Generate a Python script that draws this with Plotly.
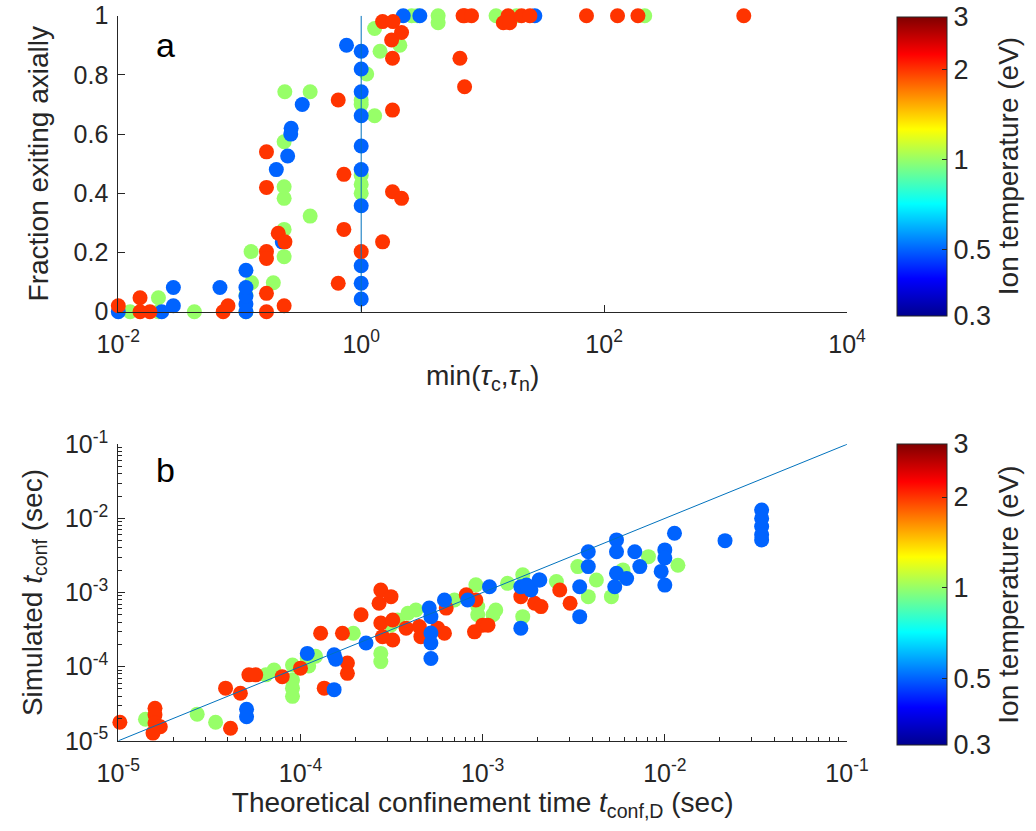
import numpy as np
import plotly.graph_objects as go

# ---------------- data: panel (a) ----------------
# Ion temperature groups (eV)
T_blue, T_green, T_red = 0.5, 1.0, 2.0

a_blue_x = [0.01, 0.0228, 0.0284, 0.0284, 0.0687, 0.1125, 0.1125, 0.1125, 0.1125, 0.1125,
            0.224, 0.20, 0.248, 0.263, 0.265, 0.327, 0.757,
            1, 1, 1, 1, 1, 1, 1, 1, 1, 1, 2.22, 3.04, 26.9]
a_blue_y = [0, 0, 0.02, 0.082, 0.082, 0, 0.026, 0.053, 0.082, 0.14,
            0.236, 0.48, 0.526, 0.60, 0.62, 0.70, 0.90,
            0.88, 0.82, 0.743, 0.662, 0.56, 0.48, 0.358, 0.155, 0.096, 0.043, 1, 1, 1]

a_green_x = [0.0125, 0.0214, 0.0214, 0.0423, 0.1125, 0.1125, 0.125, 0.124, 0.189,
             0.232, 0.232, 0.232, 0.232, 0.232, 0.235, 0.38, 0.38,
             1, 1, 1, 1, 1, 1.11, 1.29, 1.29, 1.43, 2.08, 2.6, 2.9, 4.3, 4.3, 12.9, 19, 216]
a_green_y = [0, 0.047, 0, 0, 0, 0.056, 0.098, 0.203, 0.098,
             0.186, 0.278, 0.383, 0.422, 0.574, 0.743, 0.743, 0.323,
             0.715, 0.70, 0.46, 0.43, 0.40, 0.803, 0.662, 0.957, 0.88, 0.90, 1, 1, 1, 0.976, 1, 1, 1]

a_red_x = [0.01, 0.0151, 0.0151, 0.0182, 0.073, 0.080,
           0.166, 0.166, 0.166, 0.166, 0.166, 0.166, 0.2075, 0.2355, 0.232,
           0.647, 0.647, 0.72, 0.72, 1.0, 1.5, 1.81, 1.81, 1.81, 2.15,
           1.5, 1.83, 1.78, 2.15, 6.9, 6.5, 7.1, 7.1, 8.1,
           16.2, 14.8, 16.7, 20.9, 24.5, 71.6, 129, 190, 1413]
a_red_y = [0.02, 0.047, 0, 0, 0, 0.02,
           0, 0.062, 0.203, 0.18, 0.54, 0.42, 0.265, 0.236, 0.02,
           0.096, 0.715, 0.278, 0.464, 0.203, 0.236, 0.856, 0.681, 0.405, 0.383,
           0.98, 0.98, 0.918, 0.943, 1, 0.856, 0.76, 1, 1,
           1, 0.976, 0.976, 1, 1, 1, 1, 1, 1]

# ---------------- data: panel (b) ----------------
b_red_x = [1.02e-5, 1.59e-5, 1.59e-5, 1.59e-5, 1.70e-5, 1.55e-5, 3.88e-5, 4.68e-5, 4.13e-5,
           5.21e-5, 5.68e-5, 7.94e-5, 1.0e-4, 1.29e-4, 1.70e-4, 1.35e-4, 2.15e-4,
           2.76e-4, 3.14e-4, 2.70e-4, 2.76e-4, 3.21e-4, 2.82e-4, 3.21e-4, 3.80e-4,
           4.49e-4, 4.58e-4, 5.66e-4, 6.17e-4, 8.13e-4, 9.18e-4, 9.02e-4, 1.0e-3, 1.07e-3,
           1.81e-4, 1.81e-4, 1.62e-3, 1.93e-3, 2.09e-3, 2.65e-3, 3.02e-3, 6.31e-4]
b_red_y = [1.78e-5, 2.75e-5, 2.24e-5, 1.74e-5, 1.55e-5, 1.27e-5, 5.13e-5, 4.37e-5, 1.48e-5,
           7.76e-5, 7.76e-5, 7.33e-5, 9.55e-5, 2.82e-4, 2.82e-4, 5.13e-5, 5.01e-4,
           1.08e-3, 8.81e-4, 7.16e-4, 3.89e-4, 4.27e-4, 2.54e-4, 2.29e-4, 3.31e-4,
           3.47e-4, 2.54e-4, 3.31e-4, 2.82e-4, 9.33e-4, 7.94e-4, 2.95e-4, 3.63e-4, 3.63e-4,
           1.12e-4, 8.13e-5, 8.81e-4, 7.16e-4, 6.46e-4, 1.08e-3, 7.16e-4, 6.17e-4]

b_green_x = [1.41e-5, 2.71e-5, 3.42e-5, 6.46e-5, 7.16e-5, 9.04e-5, 9.04e-5, 9.04e-5, 9.04e-5,
             1.11e-4, 1.21e-4, 1.95e-4, 1.09e-4, 3.13e-4, 3.41e-4, 3.89e-4, 4.30e-4,
             2.76e-4, 2.76e-4, 7.0e-4, 9.18e-4, 9.40e-4, 9.40e-4, 1.18e-3, 1.14e-3,
             1.37e-3, 1.66e-3, 1.66e-3, 3.33e-3, 4.21e-3, 5.09e-3, 5.89e-3, 6.03e-3,
             8.13e-3, 1.18e-2, 3.80e-3, 2.54e-3]
b_green_y = [1.95e-5, 2.29e-5, 1.78e-5, 7.76e-5, 9.02e-5, 1.05e-4, 6.61e-5, 5.13e-5, 3.98e-5,
             1.02e-4, 1.38e-4, 2.82e-4, 1.29e-4, 3.63e-4, 4.27e-4, 5.25e-4, 5.82e-4,
             1.51e-4, 1.17e-4, 7.94e-4, 1.27e-3, 6.46e-4, 5.01e-4, 5.82e-4, 5.01e-4,
             1.33e-3, 1.74e-3, 4.73e-4, 2.24e-3, 1.48e-3, 8.81e-4, 2.02e-3, 1.64e-3,
             3.05e-3, 2.34e-3, 8.81e-4, 1.41e-3]

b_blue_x = [5.06e-5, 5.06e-5, 1.09e-4, 1.53e-4, 1.56e-4, 1.53e-4, 2.29e-4,
            5.09e-4, 5.20e-4, 5.20e-4, 5.20e-4, 5.20e-4, 6.17e-4, 8.28e-4,
            1.09e-3, 1.62e-3, 1.84e-3, 2.04e-3, 1.62e-3, 1.74e-3,
            3.80e-3, 3.80e-3, 5.43e-3, 5.43e-3, 6.84e-3, 7.29e-3, 5.43e-3, 5.31e-3, 6.17e-3,
            1.13e-2, 1.0e-2, 1.0e-2, 9.55e-3, 1.0e-2, 2.14e-2,
            3.40e-2, 3.40e-2, 3.40e-2, 3.40e-2, 3.40e-2, 3.41e-3, 3.41e-3, 2.06e-3]
b_blue_y = [2.66e-5, 2.11e-5, 1.51e-4, 1.45e-4, 1.26e-4, 4.90e-5, 2.09e-4,
            6.17e-4, 4.73e-4, 2.85e-4, 2.09e-4, 1.29e-4, 7.94e-4, 7.94e-4,
            1.20e-3, 1.20e-3, 1.08e-3, 1.48e-3, 3.31e-4, 1.26e-3,
            3.55e-3, 2.24e-3, 5.13e-3, 3.55e-3, 3.55e-3, 2.24e-3, 1.82e-3, 1.20e-3, 1.55e-3,
            6.31e-3, 3.76e-3, 2.92e-3, 1.93e-3, 1.26e-3, 5.01e-3,
            1.30e-2, 1.0e-2, 7.76e-3, 6.03e-3, 5.13e-3, 1.20e-3, 4.73e-4, 1.48e-3]

# reference lines
vline_x, vline_y = [1, 1], [0, 1]
diag_x, diag_y = [1e-5, 1e-1], [1e-5, 1e-1]

cbar_ticks = [0.3, 0.5, 1, 2, 3]
cbar_ticktext = ["0.3", "0.5", "1", "2", "3"]

# ---------------- figure ----------------
W, H = 1036, 831
jet = [[0.0, "#00008f"], [0.125, "#0000ff"], [0.375, "#00ffff"],
       [0.625, "#ffff00"], [0.875, "#ff0000"], [1.0, "#800000"]]
FONT = "Liberation Sans, Arial, Helvetica, sans-serif"
AX = "#262626"

def px2fx(p):
    return p / W

def px2fy(p):
    return 1 - p / H

fig = go.Figure()

def add_groups(groups, xa, ya, cax):
    for xs, ys, T in groups:
        fig.add_trace(go.Scatter(
            x=xs, y=ys, mode="markers", xaxis=xa, yaxis=ya, cliponaxis=False,
            showlegend=False,
            marker=dict(size=15, color=[np.log10(T)] * len(xs), coloraxis=cax,
                        line=dict(width=0), opacity=1)))

add_groups([(a_green_x, a_green_y, T_green), (a_blue_x, a_blue_y, T_blue),
            (a_red_x, a_red_y, T_red)], "x", "y", "coloraxis")
fig.add_trace(go.Scatter(x=vline_x, y=vline_y, mode="lines", xaxis="x", yaxis="y",
                         line=dict(color="#0072bd", width=1), showlegend=False))

add_groups([(b_green_x, b_green_y, T_green), (b_red_x, b_red_y, T_red),
            (b_blue_x, b_blue_y, T_blue)], "x2", "y2", "coloraxis2")
fig.add_trace(go.Scatter(x=diag_x, y=diag_y, mode="lines", xaxis="x2", yaxis="y2",
                         line=dict(color="#0072bd", width=1), showlegend=False))

x_dom = [px2fx(118.3), px2fx(847)]
ya_dom = [px2fy(311.7), px2fy(15.7)]
yb_dom = [px2fy(740.8), px2fy(444.3)]

def sup(e):
    return "10<sup>%d</sup>" % e

minor_vals = [m * 10.0 ** e for e in range(-5, -1) for m in range(2, 10)]

common = dict(showline=True, linecolor=AX, linewidth=1, ticks="inside", ticklen=7,
              tickcolor=AX, showgrid=False, zeroline=False, automargin=False,
              tickfont=dict(family=FONT, size=25, color=AX))
xcommon = dict(common, ticklabelstandoff=10)
ycommon = dict(common, ticklabelstandoff=4)

TFONT = dict(family=FONT, size=28, color=AX)

def cbar(y0, y1):
    return dict(
        x=px2fx(897), xanchor="left", y=px2fy(y1), yanchor="bottom",
        len=(y1 - y0) / H, lenmode="fraction", thickness=50, thicknessmode="pixels",
        xpad=0, ypad=0, outlinewidth=1, outlinecolor=AX,
        tickvals=[np.log10(v) for v in cbar_ticks], ticktext=cbar_ticktext,
        ticks="inside", ticklen=5, tickcolor=AX,
        tickfont=dict(family=FONT, size=27, color=AX),
        title=dict(text="Ion temperature (eV)", side="right", font=TFONT))

fig.update_layout(
    width=W, height=H, margin=dict(l=0, r=0, t=0, b=0, autoexpand=False),
    paper_bgcolor="white", plot_bgcolor="white",
    font=dict(family=FONT, color=AX),
    xaxis=dict(type="log", range=[-2, 4], domain=x_dom, anchor="y",
               tickvals=[1e-2, 1, 1e2, 1e4], ticktext=[sup(-2), sup(0), sup(2), sup(4)],
               title=dict(text="min(<i>τ</i><sub>c</sub>,<i>τ</i><sub>n</sub>)",
                          font=TFONT, standoff=8), **xcommon),
    yaxis=dict(range=[0, 1], domain=ya_dom, anchor="x",
               tickvals=[0, 0.2, 0.4, 0.6, 0.8, 1],
               ticktext=["0", "0.2", "0.4", "0.6", "0.8", "1"],
               title=dict(text="Fraction exiting axially", font=TFONT, standoff=16),
               **ycommon),
    xaxis2=dict(type="log", range=[-5, -1], domain=x_dom, anchor="y2",
                tickvals=[1e-5, 1e-4, 1e-3, 1e-2, 1e-1],
                ticktext=[sup(-5), sup(-4), sup(-3), sup(-2), sup(-1)],
                minor=dict(tickvals=minor_vals, ticks="inside", ticklen=4, tickcolor=AX),
                title=dict(text="Theoretical confinement time <i>t</i><sub>conf,D</sub> (sec)",
                           font=TFONT, standoff=4), **xcommon),
    yaxis2=dict(type="log", range=[-5, -1], domain=yb_dom, anchor="x2",
                tickvals=[1e-5, 1e-4, 1e-3, 1e-2, 1e-1],
                ticktext=[sup(-5), sup(-4), sup(-3), sup(-2), sup(-1)],
                minor=dict(tickvals=minor_vals, ticks="inside", ticklen=4, tickcolor=AX),
                title=dict(text="Simulated <i>t</i><sub>conf</sub> (sec)",
                           font=TFONT, standoff=14), **ycommon),
    coloraxis=dict(colorscale=jet, cmin=np.log10(0.3), cmax=np.log10(3),
                   colorbar=cbar(16.7, 315.5)),
    coloraxis2=dict(colorscale=jet, cmin=np.log10(0.3), cmax=np.log10(3),
                    colorbar=cbar(444.3, 745)),
    annotations=[
        dict(text="a", x=px2fx(165), y=px2fy(45), xref="paper", yref="paper",
             xanchor="center", yanchor="middle", showarrow=False,
             font=dict(family=FONT, size=34, color="black")),
        dict(text="b", x=px2fx(165), y=px2fy(470), xref="paper", yref="paper",
             xanchor="center", yanchor="middle", showarrow=False,
             font=dict(family=FONT, size=34, color="black")),
    ],
)

fig.write_html("out.html")
